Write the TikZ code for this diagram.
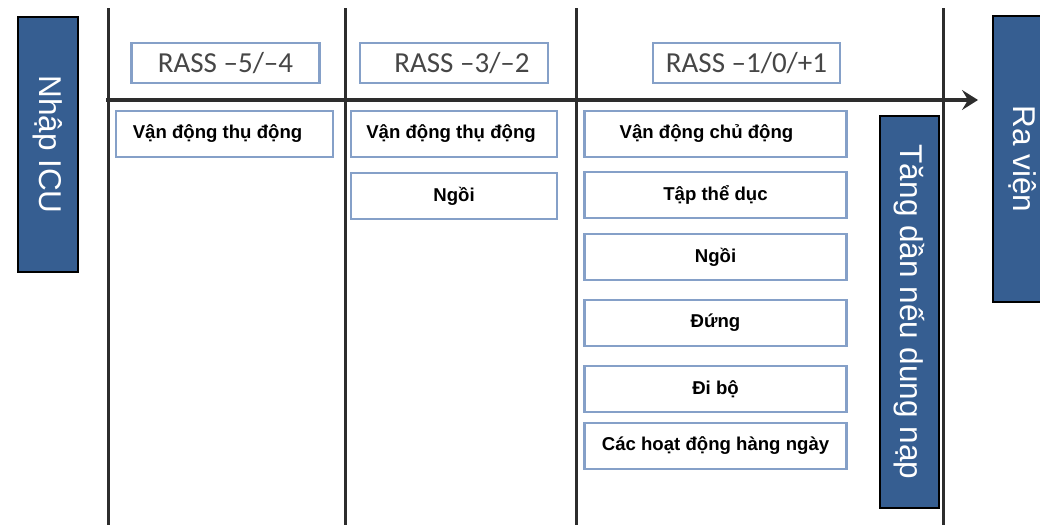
\documentclass[tikz,border=0pt]{standalone}
\usepackage{fontspec}
\setmainfont{Liberation Sans}
\newfontfamily\carl{Carlito}
\usetikzlibrary{arrows.meta}
\definecolor{bandblue}{RGB}{54,94,145}
\definecolor{boxedge}{RGB}{133,160,200}
\definecolor{axis}{RGB}{45,45,45}
\definecolor{rasstext}{RGB}{70,70,70}
\tikzset{
  band/.style={draw=black, line width=2pt, fill=bandblue, text=white, rotate=-90,
    font=\fontsize{31.5}{31.5}\selectfont, inner sep=0pt, anchor=center},
  rassbox/.style={draw=boxedge, line width=2.2pt, fill=white, text=rasstext,
    font=\carl\fontsize{29}{29}\selectfont, minimum width=188pt, minimum height=40pt, inner sep=0pt},
  actbox/.style={draw=boxedge, line width=2.2pt, fill=white, text=black,
    font=\bfseries\fontsize{18.6}{18.6}\selectfont, minimum height=46pt, inner sep=0pt},
  axisline/.style={draw=axis, line width=3pt},
}
\begin{document}
\begin{tikzpicture}[x=1pt,y=-1pt]
\useasboundingbox (0,0) rectangle (1040,525);
% vertical separators
\draw[axisline] (108,8) -- (108,525);
\draw[axisline] (345,8) -- (345,525);
\draw[axisline] (576,8) -- (576,525);
\draw[axisline] (943,8) -- (943,525);
% horizontal arrow
\coordinate (astart) at (106,100);
\coordinate (aend) at (978,100);
\draw[draw=axis, line width=4pt, -{Stealth[length=16pt,width=20pt,inset=6pt]}] (astart) -- (aend);
% side bands
\node[band, minimum width=255pt, minimum height=60pt] (icu) at (48,144.5) {Nhập ICU};
\node[band, minimum width=392pt, minimum height=59pt] (tang) at (909.5,312) {Tăng dần nếu dung nạp};
\node[band, minimum width=286pt, minimum height=60pt] (ra) at (1023,159) {Ra viện};
% RASS headers
\node[rassbox] (r1) at (225.5,63) {RASS –5/–4};
\node[rassbox] (r2) at (454,63) {\kern16pt RASS –3/–2};
\node[rassbox, minimum width=187pt] (r3) at (746.5,63) {RASS –1/0/+1};
% column 1
\node[actbox, minimum width=217pt] (c1a) at (224.5,134) {Vận động thụ động\kern14pt};
% column 2
\node[actbox, minimum width=206pt] (c2a) at (454,134) {Vận động thụ động\kern6pt};
\node[actbox, minimum width=206pt] (c2b) at (454,196) {Ngồi};
% column 3
\node[actbox, minimum width=262pt] (c3a) at (715.5,134) {Vận động chủ động\kern18pt};
\node[actbox, minimum width=262pt] (c3b) at (715.5,195) {Tập thể dục};
\node[actbox, minimum width=262pt] (c3c) at (715.5,257) {Ngồi};
\node[actbox, minimum width=262pt] (c3d) at (715.5,323) {Đứng};
\node[actbox, minimum width=262pt] (c3e) at (715.5,389) {Đi bộ};
\node[actbox, minimum width=262pt] (c3f) at (715.5,446) {Các hoạt động hàng ngày};
\end{tikzpicture}
\end{document}
